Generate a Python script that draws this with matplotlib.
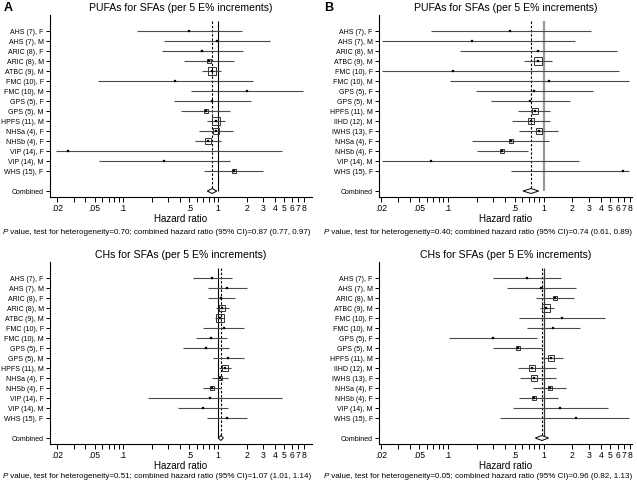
import matplotlib
matplotlib.use("Agg")
import matplotlib.pyplot as plt
import matplotlib.text as mtext
import matplotlib.ticker as mticker
import numpy as np

plt.rcParams['font.family'] = ['Liberation Sans', 'DejaVu Sans']

# ---------------- data ----------------
labels_A = ["AHS (7), F", "AHS (7), M", "ARIC (8), F", "ARIC (8), M", "ATBC (9), M",
            "FMC (10), F", "FMC (10), M", "GPS (5), F", "GPS (5), M", "HPFS (11), M",
            "NHSa (4), F", "NHSb (4), F", "VIP (14), F", "VIP (14), M", "WHS (15), F"]
labels_B = ["AHS (7), F", "AHS (7), M", "ARIC (8), M", "ATBC (9), M", "FMC (10), F",
            "FMC (10), M", "GPS (5), F", "GPS (5), M", "HPFS (11), M", "IIHD (12), M",
            "IWHS (13), F", "NHSa (4), F", "NHSb (4), F", "VIP (14), M", "WHS (15), F"]

# Panel A, PUFAs for SFAs
hr_A1 = [0.49, 0.98, 0.68, 0.80, 0.86, 0.35, 2.02, 0.87, 0.74, 0.95, 0.95, 0.78, 0.026, 0.27, 1.47]
lo_A1 = [0.139, 0.27, 0.258, 0.44, 0.68, 0.054, 0.52, 0.346, 0.41, 0.76, 0.63, 0.57, 0.0194, 0.056, 0.72]
hi_A1 = [1.78, 3.54, 1.82, 1.49, 1.07, 2.36, 7.9, 2.21, 1.34, 1.19, 1.45, 1.08, 4.7, 1.34, 2.98]
w_A1 = [1.0, 1.0, 1.7, 3.3, 21, 0.5, 0.8, 1.7, 3.3, 16, 7.7, 11, 0.3, 0.5, 2.8]
comb_A1 = (0.87, 0.77, 0.97)
het_A1 = 0.70

# Panel A, CHs for SFAs
hr_A2 = [0.87, 1.25, 1.075, 1.11, 1.05, 1.16, 0.84, 0.75, 1.28, 1.185, 1.05, 0.87, 0.82, 0.69, 1.245]
lo_A2 = [0.54, 0.79, 0.78, 0.95, 0.93, 0.70, 0.59, 0.43, 0.88, 1.02, 0.87, 0.70, 0.184, 0.376, 0.77]
hi_A2 = [1.42, 2.01, 1.52, 1.32, 1.17, 1.89, 1.23, 1.30, 1.88, 1.38, 1.27, 1.07, 4.7, 1.27, 2.01]
w_A2 = [2, 2, 1.5, 10, 20, 1.2, 2, 1.2, 2, 14, 6.7, 6.7, 0.3, 1.2, 1.5]
comb_A2 = (1.07, 1.01, 1.14)
het_A2 = 0.51

# Panel B, PUFAs for SFAs
hr_B1 = [0.45, 0.18, 0.88, 0.87, 0.114, 1.15, 0.80, 0.72, 0.81, 0.745, 0.89, 0.46, 0.37, 0.067, 6.8]
lo_B1 = [0.0665, 0.0207, 0.134, 0.62, 0.0207, 0.106, 0.196, 0.28, 0.54, 0.47, 0.56, 0.18, 0.20, 0.0207, 0.46]
hi_B1 = [3.14, 2.15, 5.85, 1.22, 6.2, 7.9, 3.32, 1.87, 1.18, 1.18, 1.40, 1.15, 0.68, 2.33, 7.9]
w_B1 = [1.0, 0.8, 1.0, 16, 0.5, 0.6, 1.7, 2.2, 14, 10, 11, 3.3, 6.7, 0.3, 0.7]
comb_B1 = (0.74, 0.61, 0.89)
het_B1 = 0.40

# Panel B, CHs for SFAs
hr_B2 = [0.675, 0.95, 1.33, 1.07, 1.56, 1.27, 0.295, 0.54, 1.21, 0.75, 0.79, 1.155, 0.80, 1.50, 2.18]
lo_B2 = [0.295, 0.42, 0.84, 0.92, 0.56, 0.675, 0.104, 0.295, 0.93, 0.54, 0.57, 0.775, 0.56, 0.485, 0.355]
hi_B2 = [1.52, 2.18, 2.08, 1.29, 4.35, 2.40, 0.85, 0.96, 1.58, 1.36, 1.36, 1.72, 1.41, 4.68, 7.76]
w_B2 = [1.2, 1.0, 4, 21, 0.8, 1.5, 1.0, 2.8, 11, 7.7, 7.7, 6.7, 6.7, 1.0, 0.5]
comb_B2 = (0.96, 0.82, 1.13)
het_B2 = 0.05

title_top = "PUFAs for SFAs (per 5 E% increments)"
title_bot = "CHs for SFAs (per 5 E% increments)"

major_ticks = [0.02, 0.05, 0.1, 0.5, 1, 2, 3, 4, 5, 6, 7, 8]
major_labels = [".02", ".05", ".1", ".5", "1", "2", "3", "4", "5", "6", "7", "8"]
minor_ticks = [0.03, 0.04, 0.06, 0.07, 0.08, 0.09, 0.2, 0.3, 0.4, 0.6, 0.7, 0.8, 0.9]

# ---------------- figure ----------------
fig = plt.figure(figsize=(6.37, 4.82), dpi=100)
W, H = 637.0, 482.0


def axes_px(left, top, right, bottom):
    return fig.add_axes([left / W, 1 - bottom / H, (right - left) / W, (bottom - top) / H])


def forest(ax, labels, hr, lo, hi, w, comb, title, xlim, nullcolor, nulllw):
    n = len(labels)
    ypos = np.arange(n)
    ycomb = n + 1
    ax.set_xscale('log')
    ax.set_xlim(*xlim)
    ax.set_ylim(ycomb + 0.6, -1.65)
    # null line and pooled-estimate line
    ax.plot([1, 1], [-1.0, ycomb], color=nullcolor, lw=nulllw, zorder=1, solid_capstyle='butt')
    ax.plot([comb[0], comb[0]], [-1.0, ycomb - 0.25], color='black', lw=0.8,
            linestyle=(0, (2.2, 1.6)), zorder=2)
    for i in range(n):
        ax.plot([lo[i], hi[i]], [ypos[i], ypos[i]], color='#4a4a4a', lw=0.8, zorder=3,
                solid_capstyle='butt')
        ms = 1.3 * np.sqrt(w[i])
        if ms > 2.0:
            ax.plot([hr[i]], [ypos[i]], marker='s', ms=ms, mfc='none', mec='#333333',
                    mew=0.7, zorder=4)
        ax.plot([hr[i]], [ypos[i]], marker='s', ms=1.5, mfc='black', mec='black',
                mew=0.2, zorder=5)
    # diamond for the combined estimate
    dh = 0.25
    dx = [comb[1], comb[0], comb[2], comb[0], comb[1]]
    dy = [ycomb, ycomb - dh, ycomb, ycomb + dh, ycomb]
    ax.fill(dx, dy, facecolor='white', edgecolor='black', lw=0.7, zorder=6)

    ax.set_yticks(list(ypos) + [ycomb])
    ax.set_yticklabels(labels + ["Combined"], fontsize=5.0)
    ax.set_xticks(major_ticks)
    ax.set_xticklabels(major_labels, fontsize=6.2)
    ax.set_xticks(minor_ticks, minor=True)
    ax.xaxis.set_minor_formatter(mticker.NullFormatter())
    ax.tick_params(axis='both', which='both', direction='out', length=3, width=0.7,
                   colors='black', pad=1.5)
    ax.tick_params(axis='x', which='both', length=3.5)
    for s in ['top', 'right']:
        ax.spines[s].set_visible(False)
    for s in ['left', 'bottom']:
        ax.spines[s].set_linewidth(0.8)
    ax.set_xlabel("Hazard ratio", fontsize=7.1, labelpad=1)
    ax.set_title(title, fontsize=7.6, pad=3)


def footnote(x, y, het, comb):
    t1 = fig.text(x / W, 1 - y / H, "P", fontsize=5.75, style='italic', va='center', ha='left')
    rest = (" value, test for heterogeneity=%.2f; combined hazard ratio (95%% CI)=%.2f (%.2f, %.2f)"
            % (het, comb[0], comb[1], comb[2]))
    fig.add_artist(mtext.Annotation(rest, xy=(1, 0.5), xycoords=t1, va='center',
                                    ha='left', fontsize=5.75))


axA1 = axes_px(50, 15, 312, 197)
axB1 = axes_px(379, 15, 632, 197)
axA2 = axes_px(50, 262, 312, 444)
axB2 = axes_px(379, 262, 632, 444)

forest(axA1, labels_A, hr_A1, lo_A1, hi_A1, w_A1, comb_A1, title_top, (0.0169, 9.8), 'black', 0.8)
forest(axB1, labels_B, hr_B1, lo_B1, hi_B1, w_B1, comb_B1, title_top, (0.0191, 8.4), '#9a9a9a', 1.6)
forest(axA2, labels_A, hr_A2, lo_A2, hi_A2, w_A2, comb_A2, title_bot, (0.0169, 9.8), 'black', 0.8)
forest(axB2, labels_B, hr_B2, lo_B2, hi_B2, w_B2, comb_B2, title_bot, (0.0191, 8.4), '#333333', 0.9)

fig.text(4 / W, 1 - 8 / H, "A", fontsize=9, fontweight='bold', va='center', ha='left')
fig.text(324 / W, 1 - 8 / H, "B", fontsize=9, fontweight='bold', va='center', ha='left')

footnote(3, 232, het_A1, comb_A1)
footnote(324, 232, het_B1, comb_B1)
footnote(3, 477, het_A2, comb_A2)
footnote(324, 477, het_B2, comb_B2)

fig.savefig("out.png", dpi=100)
